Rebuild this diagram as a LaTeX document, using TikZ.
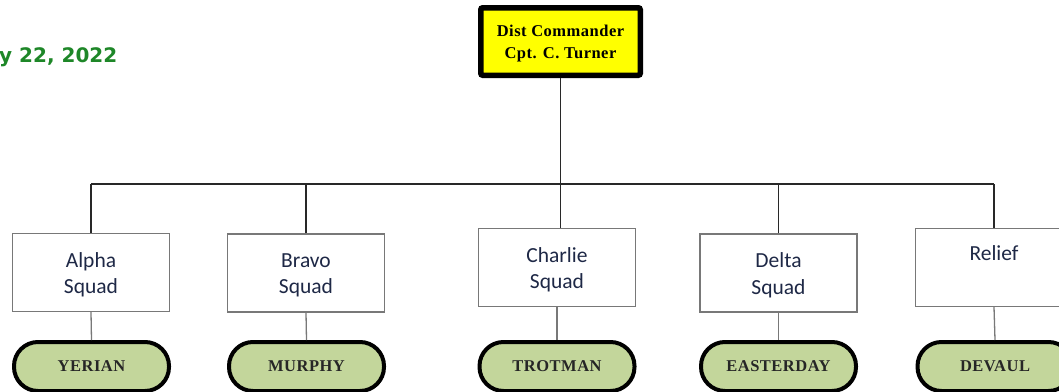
\documentclass[tikz,border=0pt]{standalone}
\usepackage{fontspec}
\setmainfont{Liberation Serif}
\newfontfamily\calib{Carlito}
\newfontfamily\datefont{DejaVu Sans}
\newfontfamily\spacedserif[LetterSpace=3]{Liberation Serif}
\definecolor{dategreen}{RGB}{30,135,40}
\definecolor{ovalgreen}{HTML}{C3D69B}
\definecolor{cmdyellow}{HTML}{FFFF00}
\definecolor{squadtext}{RGB}{30,40,70}
\definecolor{boxgray}{RGB}{120,120,120}
\definecolor{linedark}{RGB}{40,40,40}
\tikzset{
  cmdbox/.style={draw=black, line width=5.5pt, fill=cmdyellow, rounded corners=2pt,
    minimum width=159.5pt, minimum height=67.5pt, inner sep=0pt,
    label={[align=center, yshift=-2pt, font=\spacedserif\fontsize{16.5}{22}\selectfont\bfseries]center:{#1}}},
  squadbox/.style={draw=boxgray, line width=1.2pt, fill=white, minimum width=157pt,
    minimum height=78pt, inner sep=0pt,
    label={[align=center, yshift=-2.5pt, text=squadtext, font=\calib\fontsize{21.5}{26.5}\selectfont]center:{#1}}},
  namebox/.style={draw=black, line width=4pt, fill=ovalgreen, rounded corners=24pt,
    minimum width=155pt, minimum height=49pt, inner sep=0pt, text=black!85,
    font=\spacedserif\fontsize{16.5}{20}\selectfont\bfseries},
  tree/.style={draw=linedark, line width=1.3pt},
  leg/.style={draw=boxgray, line width=1.3pt},
}
\begin{document}
\begin{tikzpicture}[x=1pt,y=-1pt]
\useasboundingbox (0,0) rectangle (1059,391);
\clip (0,0) rectangle (1059,391);
\fill[white] (0,0) rectangle (1059,391);

\node[anchor=base east, inner sep=0pt, text=dategreen, font=\datefont\bfseries\fontsize{20}{24}\selectfont] (date) at (117.5,62) {y 22, 2022};

\node[cmdbox={Dist Commander\\Cpt. C. Turner}] (top) at (560.5,41.5) {};

\node[squadbox={Alpha\\Squad}] (alpha) at (91,272.5) {};
\node[squadbox={Bravo\\Squad}] (bravo) at (306,273) {};
\node[squadbox={Charlie\\Squad}] (charlie) at (557,267.5) {};
\node[squadbox={Relief\\\strut}] (relief) at (994,267.5) {};
\node[squadbox={Delta\\Squad}] (delta) at (778.5,273) {};

\node[namebox] (yerian) at (91.5,366.5) {YERIAN};
\node[namebox] (murphy) at (306.5,366.5) {MURPHY};
\node[namebox] (trotman) at (557,366.5) {TROTMAN};
\node[namebox] (easterday) at (778.5,366.5) {EASTERDAY};
\node[namebox] (devaul) at (995,366.5) {DEVAUL};

\coordinate (busL) at (91,184);
\coordinate (busR) at (994,184);

\draw[tree] (busL) -- (busR);
\draw[tree] (top.south) -- (top.south |- charlie.north);
\draw[tree] (alpha.north) -- (alpha.north |- busL);
\draw[tree] (bravo.north) -- (bravo.north |- busL);
\draw[tree] (delta.north) -- (delta.north |- busL);
\draw[tree] (relief.north) -- (relief.north |- busL);

\draw[leg] (alpha.south) -- (yerian.north);
\draw[leg] (bravo.south) -- (murphy.north);
\draw[leg] (charlie.south) -- (trotman.north);
\draw[leg] (delta.south) -- (easterday.north);
\draw[leg] (relief.south) -- (devaul.north);
\end{tikzpicture}
\end{document}
